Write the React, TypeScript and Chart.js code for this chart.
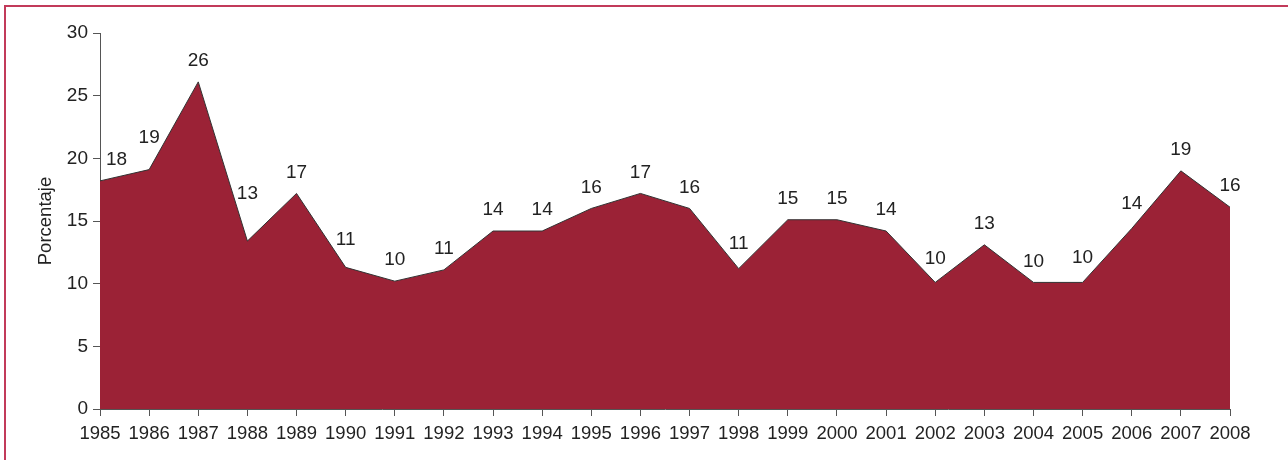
import React, { useEffect, useRef } from "react";
import { Chart, registerables } from "chart.js";

Chart.register(...registerables);

const years = [
  "1985", "1986", "1987", "1988", "1989", "1990", "1991", "1992", "1993", "1994", "1995", "1996",
  "1997", "1998", "1999", "2000", "2001", "2002", "2003", "2004", "2005", "2006", "2007", "2008",
];
const percentages = [
  18.2, 19.1, 26.1, 13.4, 17.2, 11.3, 10.2, 11.1, 14.2, 14.2, 16.0, 17.2,
  16.0, 11.2, 15.1, 15.1, 14.2, 10.1, 13.1, 10.1, 10.1, 14.4, 19.0, 16.1,
];
const yTicks = [0, 5, 10, 15, 20, 25, 30];
const yTitle = "Porcentaje";

const FONT = "'Liberation Sans', Arial, sans-serif";
const TEXT = "#222222";
const AXIS = "#555555";

const labelPlugin = {
  id: "pointLabels",
  afterDatasetsDraw(chart: any) {
    const meta = chart.getDatasetMeta(0);
    const pts = meta.data;
    const ctx = chart.ctx;
    const area = chart.chartArea;
    ctx.save();
    ctx.font = `19px ${FONT}`;
    ctx.fillStyle = TEXT;
    ctx.textAlign = "center";
    ctx.textBaseline = "middle";
    const lineY = (x: number) => {
      for (let i = 0; i < pts.length - 1; i++) {
        const a = pts[i], b = pts[i + 1];
        if (x >= a.x && x <= b.x) {
          return a.y + ((x - a.x) / (b.x - a.x)) * (b.y - a.y);
        }
      }
      return Infinity;
    };
    pts.forEach((p: any, i: number) => {
      const txt = String(Math.round(percentages[i]));
      const hw = ctx.measureText(txt).width / 2;
      let cx = Math.max(p.x, area.left + hw + 6);
      let minY = Infinity;
      for (let x = cx - hw; x <= cx + hw; x += 1) {
        minY = Math.min(minY, lineY(x));
      }
      const cy = Math.min(p.y - 21, minY - 13);
      ctx.fillText(txt, cx, cy);
    });
    ctx.restore();
  },
};

export default function App() {
  const ref = useRef<HTMLCanvasElement>(null);
  useEffect(() => {
    if (!ref.current) return;
    const chart = new Chart(ref.current, {
      type: "line",
      data: {
        labels: years,
        datasets: [
          {
            data: percentages,
            fill: "origin",
            backgroundColor: "#9b2236",
            borderColor: "#333333",
            borderWidth: 1,
            pointRadius: 0,
            tension: 0,
          },
        ],
      },
      options: {
        responsive: false,
        animation: false,
        events: [],
        layout: { padding: { top: 33, right: 58, left: 0, bottom: 0 } },
        plugins: { legend: { display: false }, tooltip: { enabled: false } },
        scales: {
          x: {
            offset: false,
            grid: { drawOnChartArea: false, drawTicks: true, tickLength: 7, color: AXIS },
            border: { display: true, color: AXIS, width: 1 },
            ticks: {
              color: TEXT,
              font: { family: FONT, size: 18.5 },
              padding: 7,
              maxRotation: 0,
              minRotation: 0,
              autoSkip: false,
            },
            afterFit: (s: any) => {
              s.height = 51;
            },
          },
          y: {
            min: 0,
            max: 30,
            afterBuildTicks: (s: any) => {
              s.ticks = yTicks.map((v) => ({ value: v }));
            },
            grid: { drawOnChartArea: false, drawTicks: true, tickLength: 7, color: AXIS },
            border: { display: true, color: AXIS, width: 1 },
            ticks: {
              color: TEXT,
              font: { family: FONT, size: 19 },
              padding: 5,
            },
            title: {
              display: true,
              text: yTitle,
              color: TEXT,
              font: { family: FONT, size: 18.5 },
              padding: { top: 35, bottom: 0 },
            },
            afterFit: (s: any) => {
              s.width = 100;
            },
          },
        },
      },
      plugins: [labelPlugin],
    });
    return () => chart.destroy();
  }, []);

  return (
    <div style={{ position: "absolute", left: 0, top: 0, width: 1288, height: 460, background: "#fff" }}>
      <canvas ref={ref} width={1288} height={460} style={{ position: "absolute", left: 0, top: 0 }} />
      <div
        style={{
          position: "absolute",
          left: 4,
          top: 5,
          width: 1284,
          height: 455,
          boxSizing: "border-box",
          borderTop: "2px solid #c23a5a",
          borderLeft: "2px solid #c23a5a",
          pointerEvents: "none",
        }}
      />
    </div>
  );
}
